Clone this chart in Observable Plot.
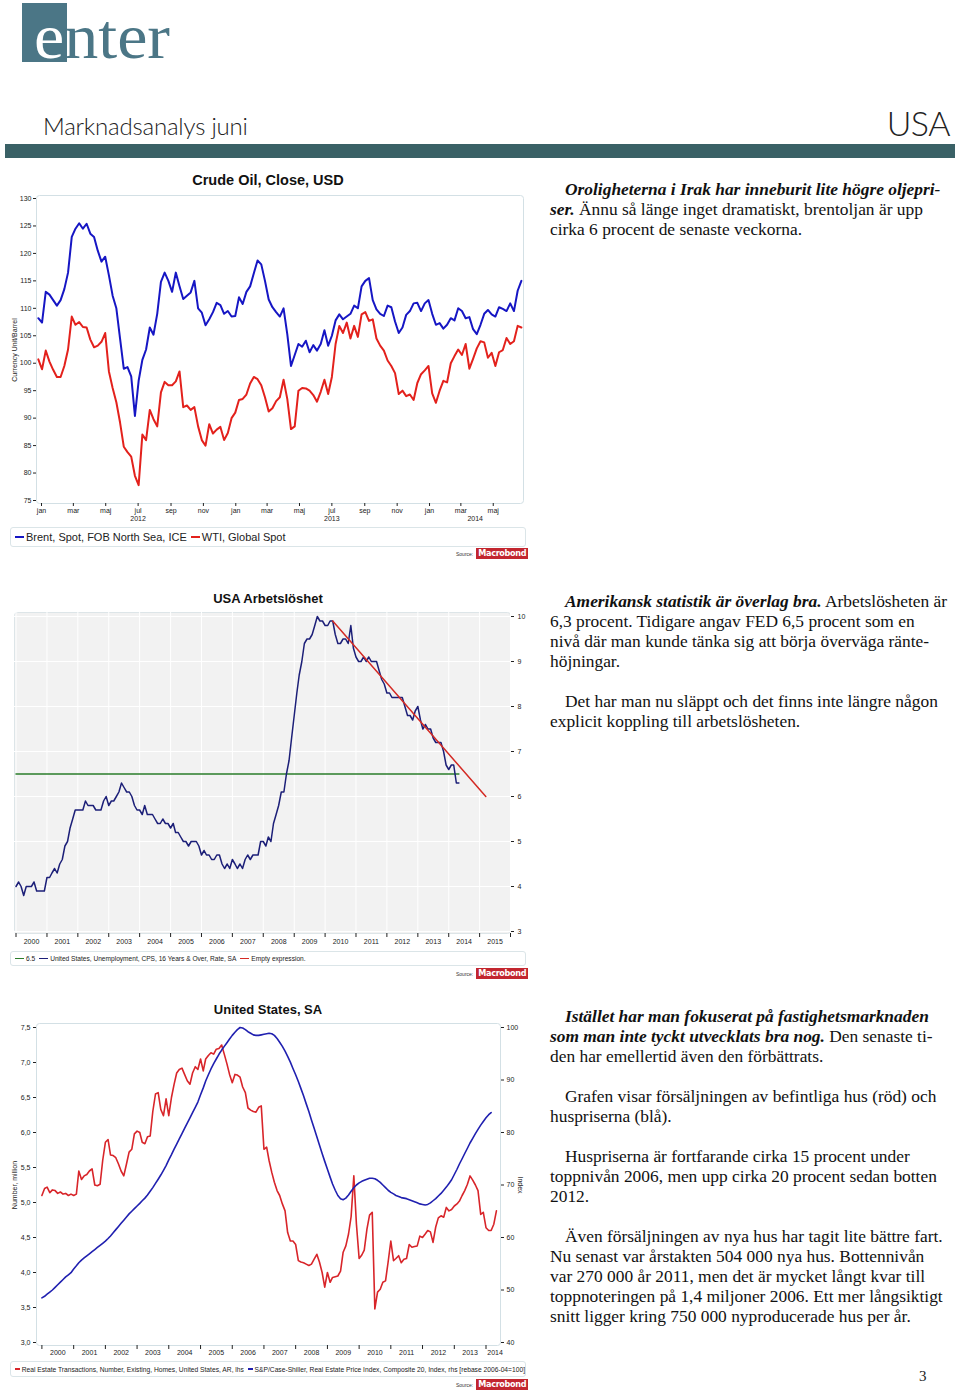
<!DOCTYPE html>
<html><head><meta charset="utf-8">
<script src="https://cdn.jsdelivr.net/npm/d3@7"></script>
<script src="https://cdn.jsdelivr.net/npm/@observablehq/plot@0.6"></script>
<style>
html,body{margin:0;padding:0;background:#fff}
body{width:960px;height:1396px;position:relative;overflow:hidden;font-family:"Liberation Sans",Arial,sans-serif;color:#111}
.abs{position:absolute}
.txt{position:absolute;left:550px;font-family:"Liberation Serif","Times New Roman",serif;font-size:17.4px;line-height:20px;color:#111;white-space:nowrap}
.txt .ind{padding-left:15px}
.ctitle{position:absolute;left:0;width:536px;text-align:center;font-weight:bold;color:#111}
.legend{position:absolute;border:1px solid #dbe5e8;border-radius:3px;background:#fff;white-space:nowrap;color:#222;display:flex;align-items:center}
.sw{display:inline-block;height:2px;margin:0 2px 0 4px;vertical-align:middle}
.src{position:absolute;display:flex;align-items:center;white-space:nowrap}
.src .l{font-size:5px;color:#333;margin-right:3px}
.src .mb{background:#c2262f;color:#fff;font-weight:bold;font-size:9px;line-height:11px;padding:0 2px;letter-spacing:-0.3px;font-family:"DejaVu Sans Condensed","Liberation Sans Narrow","Liberation Sans",sans-serif}
.rot{position:absolute;white-space:nowrap;font-size:7px;color:#222}
</style></head>
<body>
<div id="root"></div>
<script>
// ---------------- DATA ----------------
const svMonths = ["jan","feb","mar","apr","maj","jun","jul","aug","sep","okt","nov","dec"];

// Chart 1: weekly closes from 2011-12-26
const oilStart = "2011-12-26";
const brent = [108.2,107.4,113,112.5,111.5,110.5,111.5,113.5,116.5,123,124.5,125.5,124.5,125.4,123.6,123,120.5,118.5,119.4,116,112.3,110,104.5,99,99.3,97.6,90.4,96.8,100.6,102.5,106.5,105.2,109,114.8,116.5,115,113,116.5,114,111.7,112.3,112.9,115,110,109.2,106.9,108,109.3,111,110.6,109,109.5,108.5,108.6,112,110.8,113,114,116.4,118.7,118,115,111.6,110.2,109.3,108.5,110,105.3,99.5,101.5,103.5,103,104.1,102,103.3,102.3,103.5,106,103.2,105,107.8,108.9,108,108.5,109,110.5,110,114,115,115.5,111.5,109.8,109,108.6,110.5,110.2,107.6,105.5,106.5,108.8,109.5,110.9,111,109.5,110.9,111.5,109,107,107.3,106.3,107,108.2,107.8,110,109.5,108.2,108.4,106.2,105.3,107,109,109.7,108.9,108.5,110.2,109.9,109.5,110.9,109.5,113.2,115];
const wti = [100.7,98.9,102.3,100.3,98.8,97.5,97.5,99.5,102.5,108.5,107,107.5,106.6,106.5,104.3,102.9,103.2,103.9,105.5,98.5,95.5,92.9,89.2,84.8,83.8,83,79.5,77.8,87,86,91.5,89.8,88.5,94.7,96.6,96,96,96.7,98.5,92,92.3,91.5,92,88.5,86,85,88.9,87.2,87.9,88.4,86,87.3,90,91,93.3,93.5,94.3,96.3,97.5,97.1,96,93.8,91.2,91.8,93.1,93.8,97,93.5,88,88.5,95,95.5,95.4,95,94.2,93,94.8,97,94.4,97.5,103.5,106.8,105.5,107.4,104.5,106.8,104.8,108.9,109.3,107.7,108,104.5,103.2,102.3,100.5,99.5,98.2,94.4,95,94,94.3,93.3,96.4,98,98.7,99.5,94.5,92.8,95,96.8,96.5,100,101.3,102.5,101.5,103.5,99,100.8,102.7,104,103.8,101,101.9,99.5,102,102.4,104.6,103.5,104,106.8,106.5];
const oilSeries = ["Brent, Spot, FOB North Sea, ICE","WTI, Global Spot"];
const oilColors = ["#1616c4","#e3211c"];
const oilTicks = [75,80,85,90,95,100,105,110,115,120,125,130];
const oilMonthTicks = ["2012-01-01","2012-03-01","2012-05-01","2012-07-01","2012-09-01","2012-11-01","2013-01-01","2013-03-01","2013-05-01","2013-07-01","2013-09-01","2013-11-01","2014-01-01","2014-03-01","2014-05-01"];
const oilYearLabels = ["2012","2013","2014"];
const oilYearPos = ["2012-07-01","2013-07-01","2014-03-28"];

// Chart 2: monthly unemployment from 2000-01
const unemp = [
4.0,4.1,4.0,3.8,4.0,4.0,4.0,4.1,3.9,3.9,3.9,3.9,
4.2,4.2,4.3,4.4,4.3,4.5,4.6,4.9,5.0,5.3,5.5,5.7,
5.7,5.7,5.7,5.9,5.8,5.8,5.8,5.7,5.7,5.7,5.9,6.0,
5.8,5.9,5.9,6.0,6.1,6.3,6.2,6.1,6.1,6.0,5.8,5.7,
5.7,5.6,5.8,5.6,5.6,5.6,5.5,5.4,5.4,5.5,5.4,5.4,
5.3,5.4,5.2,5.2,5.1,5.0,5.0,4.9,5.0,5.0,5.0,4.9,
4.7,4.8,4.7,4.7,4.6,4.6,4.7,4.7,4.5,4.4,4.5,4.4,
4.6,4.5,4.4,4.5,4.4,4.6,4.7,4.6,4.7,4.7,4.7,5.0,
5.0,4.9,5.1,5.0,5.4,5.6,5.8,6.1,6.1,6.5,6.8,7.3,
7.8,8.3,8.7,9.0,9.4,9.5,9.5,9.6,9.8,10.0,9.9,9.9,
9.8,9.8,9.9,9.9,9.6,9.4,9.4,9.5,9.5,9.4,9.8,9.3,
9.1,9.0,9.0,9.1,9.0,9.1,9.0,9.0,9.0,8.8,8.6,8.5,
8.3,8.3,8.2,8.2,8.2,8.2,8.2,8.0,7.8,7.8,7.7,7.9,
8.0,7.7,7.5,7.6,7.5,7.5,7.3,7.2,7.2,7.2,7.0,6.7,
6.6,6.7,6.7,6.3,6.3];
const fedLevel = 6.5;
const fedSpan = ["2000-01-01","2014-05-01"];
const trendDates = ["2010-04-01","2015-03-15"];
const trendValues = [9.9,6.0];
const unempTicks = [3,4,5,6,7,8,9,10];
const unempYears = [2000,2001,2002,2003,2004,2005,2006,2007,2008,2009,2010,2011,2012,2013,2014,2015];
const unempLegend = ["6.5","United States, Unemployment, CPS, 16 Years & Over, Rate, SA","Empty expression."];
const unempColors = ["#2b7d2b","#1c1f78","#d42a24"];

// Chart 3: monthly from 2000-01
const homeSales = [
5.1,5.2,5.22,5.14,5.18,5.17,5.13,5.15,5.12,5.13,5.1,5.12,
5.1,5.12,5.45,5.33,5.38,5.4,5.45,5.48,5.25,5.24,5.26,5.6,
5.86,5.9,5.68,5.67,5.64,5.55,5.45,5.38,5.55,5.72,5.76,5.98,
6.02,6.0,5.86,5.84,5.94,5.95,6.3,6.55,6.57,6.33,6.24,6.48,
6.24,6.5,6.68,6.85,6.9,6.92,6.83,6.74,6.69,6.85,6.94,6.9,
7.05,6.88,7.05,7.1,7.14,7.12,7.19,7.2,7.25,7.12,6.98,6.83,
6.71,6.83,6.82,6.79,6.65,6.57,6.35,6.32,6.3,6.29,6.36,6.38,
5.76,5.79,5.6,5.43,5.29,5.17,5.1,4.98,4.88,4.57,4.45,4.45,
4.4,4.17,4.15,4.14,4.12,4.1,4.12,4.19,4.26,4.15,4.0,3.79,
4.0,3.86,3.93,3.94,3.95,4.02,4.29,4.38,4.55,4.8,5.38,4.69,
4.2,4.25,4.32,4.62,4.82,4.86,3.48,3.72,3.76,3.86,3.88,4.15,
4.45,4.17,4.2,4.24,4.14,4.19,4.2,4.4,4.36,4.37,4.38,4.52,
4.5,4.55,4.6,4.58,4.43,4.65,4.78,4.81,4.79,4.93,4.88,4.9,
4.95,4.98,5.02,5.1,5.17,5.26,5.38,5.32,5.25,5.17,4.83,4.86,
4.64,4.6,4.6,4.69,4.88];
const caseShiller = [
48.5,48.8,49.2,49.6,50.0,50.5,51.0,51.5,52.0,52.5,52.9,53.3,
54.0,54.6,55.2,55.7,56.1,56.5,56.9,57.3,57.7,58.1,58.5,58.9,
59.3,59.8,60.3,60.9,61.5,62.1,62.7,63.3,63.9,64.5,65.0,65.5,
66.0,66.5,67.0,67.5,68.1,68.8,69.5,70.3,71.1,71.9,72.8,73.7,
74.8,75.8,76.8,77.8,78.8,79.8,80.8,81.8,82.8,83.8,84.8,85.8,
87.2,88.5,89.8,91.0,92.1,93.1,94.0,94.9,95.7,96.4,97.1,97.8,
98.5,99.1,99.6,100.0,99.9,99.6,99.2,98.9,98.6,98.5,98.5,98.6,
98.7,98.8,98.9,98.8,98.5,97.9,97.2,96.4,95.5,94.5,93.4,92.2,
91.0,89.7,88.4,87.0,85.5,84.0,82.4,80.8,79.2,77.6,76.0,74.5,
73.0,71.5,70.2,69.0,68.0,67.4,67.2,67.5,68.1,68.8,69.5,70.0,
70.4,70.7,70.9,71.1,71.3,71.3,71.2,70.9,70.5,70.0,69.5,69.0,
68.6,68.3,68.0,67.8,67.6,67.5,67.4,67.2,67.0,66.8,66.6,66.4,
66.3,66.2,66.3,66.6,67.0,67.4,67.9,68.4,69.0,69.6,70.3,71.0,
72.0,73.0,74.0,75.0,76.0,77.0,78.0,78.9,79.8,80.6,81.4,82.1,
82.8,83.4,83.8];
const leftTicks = [3.0,3.5,4.0,4.5,5.0,5.5,6.0,6.5,7.0,7.5];
const rightTicks = [40,50,60,70,80,90,100];
const houseYears = [2000,2001,2002,2003,2004,2005,2006,2007,2008,2009,2010,2011,2012,2013,2014];
const houseLegend = ["Real Estate Transactions, Number, Existing, Homes, United States, AR, lhs","S&P/Case-Shiller, Real Estate Price Index, Composite 20, Index, rhs [rebase 2006-04=100]"];
const houseColors = ["#d8252a","#2020b0"];

// ---------------- LAYOUT ----------------
const root = document.getElementById("root");
function el(html){const d=document.createElement("div");d.innerHTML=html;while(d.firstChild)root.appendChild(d.firstChild);}
function place(node,left,top){const w=document.createElement("div");w.className="abs";w.style.left=left+"px";w.style.top=top+"px";w.appendChild(node);root.appendChild(w);}
const baseStyle = {fontFamily:"'Liberation Sans', Arial, sans-serif",fontSize:"7px",color:"#222",background:"transparent",overflow:"visible"};

// Header
el(`<div class="abs" style="left:22px;top:3px;width:45px;height:59px;background:#4b7686"></div>
<div class="abs" style="left:34px;top:2px;font-family:'Liberation Serif','Times New Roman',serif;font-size:63px;line-height:71px;white-space:nowrap;transform:scaleX(1.08);transform-origin:0 0"><span style="color:#fff">e</span><span style="color:#4b7686">nter</span></div>
<div class="abs" style="left:43px;top:112px;font-family:'Lato','Open Sans',sans-serif;font-weight:300;font-size:24px;line-height:28px;color:#222;letter-spacing:-0.2px">Marknadsanalys juni</div>
<div class="abs" style="right:10px;top:104px;font-family:'Lato','Open Sans',sans-serif;font-weight:300;font-size:34px;line-height:38px;color:#222;letter-spacing:-0.5px">USA</div>
<div class="abs" style="left:5px;top:144px;width:950px;height:14px;background:#3a6166"></div>`);

// ---------- Chart 1 ----------
el(`<div class="ctitle" style="top:171px;font-size:14.5px;line-height:18px">Crude Oil, Close, USD</div>`);
el(`<div class="rot" style="left:14px;top:350px;transform:translate(-50%,-50%) rotate(-90deg)">Currency Unit/Barrel</div>`);
const oilDate = i => d3.utcDay.offset(new Date(oilStart), 7*i);
const brentData = brent.map((v,i)=>({date:oilDate(i),value:v}));
const wtiData = wti.map((v,i)=>({date:oilDate(i),value:v}));
const oilYears = oilYearLabels.map((l,i)=>({label:l,date:new Date(oilYearPos[i])}));
const c1 = Plot.plot({
  width:540,height:345,marginLeft:36,marginRight:17,marginTop:9,marginBottom:28,
  style:baseStyle,
  x:{type:"utc",domain:[new Date("2012-01-01"),new Date("2014-06-27")],range:[41,523]},
  y:{domain:[75,130],range:[314,12]},
  marks:[
    Plot.frame({stroke:"#d3e0e5",rx:3}),
    Plot.axisY({ticks:oilTicks,tickSize:3,tickPadding:2,label:null,fontSize:7}),
    Plot.axisX({ticks:oilMonthTicks.map(d=>new Date(d)),tickFormat:d=>svMonths[d.getUTCMonth()],tickSize:3,tickPadding:2,label:null,fontSize:7}),
    Plot.text(oilYears,{x:"date",text:"label",frameAnchor:"bottom",dy:17,fontSize:7}),
    Plot.line(wtiData,{x:"date",y:"value",stroke:oilColors[1],strokeWidth:2}),
    Plot.line(brentData,{x:"date",y:"value",stroke:oilColors[0],strokeWidth:2})
  ]
});
place(c1,0,186);
el(`<div class="legend" style="left:10px;top:527px;width:514px;height:18px;font-size:11px">${oilSeries.map((s,i)=>`<span class="sw" style="width:9px;background:${oilColors[i]}"></span>${s}`).join("")}</div>`);
el(`<div class="src" style="left:456px;top:548px"><span class="l">Source:</span><span class="mb">Macrobond</span></div>`);

// ---------- Chart 2 ----------
el(`<div class="ctitle" style="top:591px;font-size:13px;line-height:16px">USA Arbetslöshet</div>`);
const m2000 = new Date("2000-01-01");
const unempData = unemp.map((v,i)=>({date:d3.utcMonth.offset(m2000,i),value:v}));
const fedData = fedSpan.map(d=>({date:new Date(d),value:fedLevel}));
const trendData = trendDates.map((d,i)=>({date:new Date(d),value:trendValues[i]}));
const yearStarts2 = unempYears.concat([2016]).map(y=>new Date(Date.UTC(y,0,1)));
const c2 = Plot.plot({
  width:540,height:350,marginLeft:14,marginRight:30,marginTop:6,marginBottom:23,
  style:baseStyle,
  x:{type:"utc",domain:[new Date("2000-01-01"),new Date("2016-01-01")],range:[15.5,510]},
  y:{domain:[3,10],range:[325,10]},
  marks:[
    Plot.frame({fill:"#f2f2f2",stroke:"#dde5e8",rx:3}),
    Plot.ruleX(yearStarts2,{stroke:"#fff",strokeWidth:1}),
    Plot.ruleY(unempTicks,{stroke:"#fff",strokeWidth:1}),
    Plot.axisY({anchor:"right",ticks:unempTicks,tickFormat:d=>String(d),tickSize:3,tickPadding:4,label:null,fontSize:7}),
    Plot.axisX({ticks:yearStarts2,tickFormat:()=>"",tickSize:4,label:null}),
    Plot.text(unempYears,{x:y=>new Date(Date.UTC(y,6,2)),text:y=>String(y),frameAnchor:"bottom",dy:10,fontSize:7}),
    Plot.line(fedData,{x:"date",y:"value",stroke:unempColors[0],strokeWidth:1.5}),
    Plot.line(unempData,{x:"date",y:"value",stroke:unempColors[1],strokeWidth:1.5}),
    Plot.line(trendData,{x:"date",y:"value",stroke:unempColors[2],strokeWidth:1.5})
  ]
});
place(c2,0,606);
el(`<div class="legend" style="left:10px;top:951px;width:514px;height:13px;font-size:6.6px">${unempLegend.map((s,i)=>`<span class="sw" style="width:9px;height:1.5px;background:${unempColors[i]}"></span>${s}`).join("")}</div>`);
el(`<div class="src" style="left:456px;top:968px"><span class="l">Source:</span><span class="mb">Macrobond</span></div>`);

// ---------- Chart 3 ----------
el(`<div class="ctitle" style="top:1002px;font-size:13px;line-height:16px">United States, SA</div>`);
el(`<div class="rot" style="left:14px;top:1185px;transform:translate(-50%,-50%) rotate(-90deg)">Number, million</div>`);
el(`<div class="rot" style="left:520px;top:1185px;transform:translate(-50%,-50%) rotate(90deg)">Index</div>`);
const toLeft = v => 3 + (v-40)*(4.5/60);
const fromLeft = d => 40 + (d-3)*(60/4.5);
const salesData = homeSales.map((v,i)=>({date:d3.utcMonth.offset(m2000,i),value:v}));
const csData = caseShiller.map((v,i)=>({date:d3.utcMonth.offset(m2000,i),value:toLeft(v)}));
const yearStarts3 = houseYears.map(y=>new Date(Date.UTC(y,0,1)));
const houseLabelDates = houseYears.map(y=>y===2014?new Date(Date.UTC(2014,3,15)):new Date(Date.UTC(y,6,2)));
const c3 = Plot.plot({
  width:540,height:350,marginLeft:36,marginRight:40,marginTop:7,marginBottom:21,
  style:baseStyle,
  x:{type:"utc",domain:[new Date("2000-01-01"),new Date("2014-01-01")],range:[41.4,485.5]},
  y:{domain:[3,7.5],range:[326,11]},
  marks:[
    Plot.frame({stroke:"#d3e0e5",rx:3}),
    Plot.axisY({anchor:"left",ticks:leftTicks,tickFormat:d=>d.toFixed(1).replace(".",","),tickSize:3,tickPadding:3,label:null,fontSize:7}),
    Plot.axisY({anchor:"right",ticks:rightTicks.map(toLeft),tickFormat:d=>String(Math.round(fromLeft(d))),tickSize:3,tickPadding:3,label:null,fontSize:7}),
    Plot.axisX({ticks:yearStarts3,tickFormat:()=>"",tickSize:4,label:null}),
    Plot.text(houseYears,{x:(y,i)=>houseLabelDates[i],text:y=>String(y),frameAnchor:"bottom",dy:9,fontSize:7}),
    Plot.line(salesData,{x:"date",y:"value",stroke:houseColors[0],strokeWidth:1.6}),
    Plot.line(csData,{x:"date",y:"value",stroke:houseColors[1],strokeWidth:1.6})
  ]
});
place(c3,0,1016);
el(`<div class="legend" style="left:10px;top:1361px;width:514px;height:14px;font-size:6.7px">${houseLegend.map((s,i)=>`<span class="sw" style="width:9px;height:1.5px;background:${houseColors[i]}"></span>${s}`).join("")}</div>`);
el(`<div class="src" style="left:456px;top:1379px"><span class="l">Source:</span><span class="mb">Macrobond</span></div>`);

// ---------- Text ----------
el(`<div class="txt" style="top:179px"><div class="ind"><b><i>Oroligheterna i Irak har inneburit lite högre oljepri-</i></b></div><div><b><i>ser.</i></b> Ännu så länge inget dramatiskt, brentoljan är upp</div><div>cirka 6 procent de senaste veckorna.</div></div>
<div class="txt" style="top:591px"><div class="ind"><b><i>Amerikansk statistik är överlag bra.</i></b> Arbetslösheten är</div><div>6,3 procent. Tidigare angav FED 6,5 procent som en</div><div>nivå där man kunde tänka sig att börja överväga ränte-</div><div>höjningar.</div></div>
<div class="txt" style="top:691px"><div class="ind">Det har man nu släppt och det finns inte längre någon</div><div>explicit koppling till arbetslösheten.</div></div>
<div class="txt" style="top:1006px"><div class="ind"><b><i>Istället har man fokuserat på fastighetsmarknaden</i></b></div><div><b><i>som man inte tyckt utvecklats bra nog.</i></b> Den senaste ti-</div><div>den har emellertid även den förbättrats.</div></div>
<div class="txt" style="top:1086px"><div class="ind">Grafen visar försäljningen av befintliga hus (röd) och</div><div>huspriserna (blå).</div></div>
<div class="txt" style="top:1146px"><div class="ind">Huspriserna är fortfarande cirka 15 procent under</div><div>toppnivån 2006, men upp cirka 20 procent sedan botten</div><div>2012.</div></div>
<div class="txt" style="top:1226px"><div class="ind">Även försäljningen av nya hus har tagit lite bättre fart.</div><div>Nu senast var årstakten 504 000 nya hus. Bottennivån</div><div>var 270 000 år 2011, men det är mycket långt kvar till</div><div>toppnoteringen på 1,4 miljoner 2006. Ett mer långsiktigt</div><div>snitt ligger kring 750 000 nyproducerade hus per år.</div></div>
<div class="abs" style="left:919px;top:1366px;font-family:'Liberation Serif',serif;font-size:15px;line-height:20px;color:#222">3</div>`);
</script>
</body></html>
